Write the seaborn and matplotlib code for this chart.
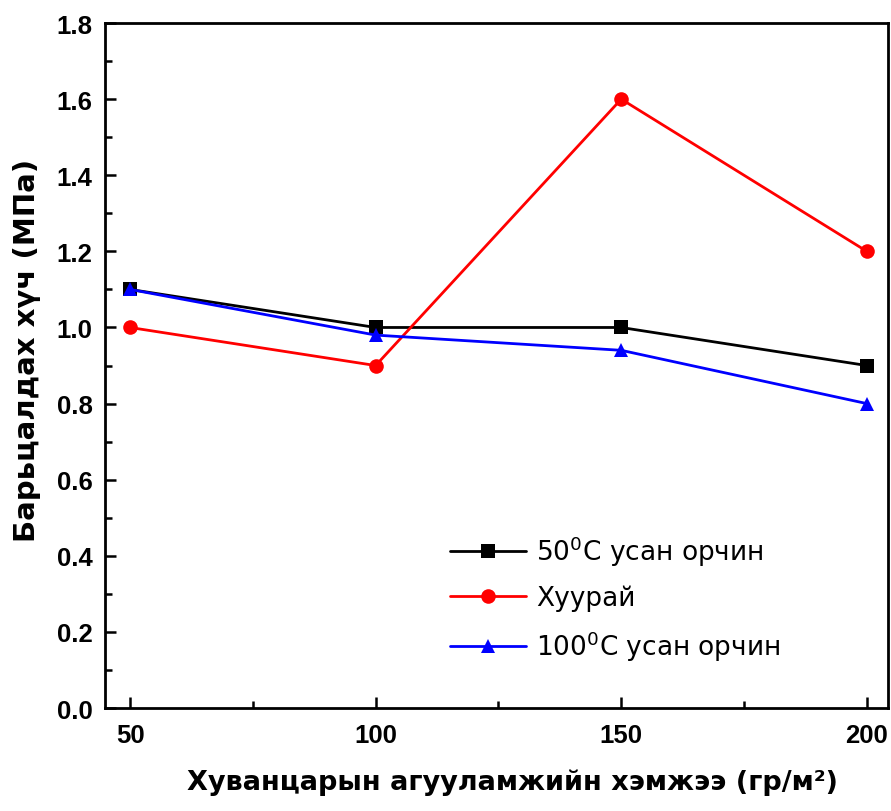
import numpy as np
import pandas as pd
import matplotlib
matplotlib.use("Agg")
import matplotlib.pyplot as plt
import seaborn as sns
from matplotlib.ticker import MultipleLocator, FormatStrFormatter

# data
content = [50, 100, 150, 200]
wet50 = [1.1, 1.0, 1.0, 0.9]
dry = [1.0, 0.9, 1.6, 1.2]
wet100 = [1.1, 0.98, 0.94, 0.8]
series_names = ["50$^\\mathregular{0}$C усан орчин", "Хуурай",
                "100$^\\mathregular{0}$C усан орчин"]

df = pd.DataFrame({
    "x": content * 3,
    "y": wet50 + dry + wet100,
    "series": [series_names[0]] * 4 + [series_names[1]] * 4 + [series_names[2]] * 4,
})

sns.set_style("ticks")
plt.rcParams["font.family"] = ["Liberation Sans", "DejaVu Sans"]
plt.rcParams.update({"text.color": "black", "axes.labelcolor": "black",
                     "xtick.color": "black", "ytick.color": "black"})

fig = plt.figure(figsize=(8.91, 8.12), dpi=100)
ax = fig.add_axes([0.1178, 0.1268, 0.8788, 0.8436])

sns.lineplot(data=df, x="x", y="y", hue="series", style="series",
             palette=["black", "red", "blue"],
             markers=["s", "o", "^"], dashes=False,
             markersize=10.5, linewidth=2, markeredgewidth=0,
             ax=ax)

ax.set_xlim(44.9, 204.3)
ax.set_ylim(0, 1.8)
ax.xaxis.set_major_locator(MultipleLocator(50))
ax.xaxis.set_minor_locator(MultipleLocator(25))
ax.yaxis.set_major_locator(MultipleLocator(0.2))
ax.yaxis.set_minor_locator(MultipleLocator(0.1))
ax.yaxis.set_major_formatter(FormatStrFormatter("%.1f"))

ax.tick_params(which="major", direction="in", length=8, width=1.8,
               labelsize=18.5)
ax.tick_params(axis="x", which="major", pad=11)
ax.tick_params(axis="y", which="major", pad=9)
ax.tick_params(which="minor", direction="in", length=5, width=1.8)
for lab in ax.get_xticklabels() + ax.get_yticklabels():
    lab.set_fontweight("bold")
for sp in ax.spines.values():
    sp.set_linewidth(2)
    sp.set_color("black")

ax.set_xlabel("Хуванцарын агууламжийн хэмжээ (гр/м²)", fontsize=19.5,
              fontweight="bold", family=["DejaVu Sans"])
ax.xaxis.set_label_coords(0.52, -0.088)
ax.set_ylabel("Барьцалдах хүч (МПа)", fontsize=21,
              fontweight="bold", family=["DejaVu Sans"])
ax.yaxis.set_label_coords(-0.082, 0.524)

leg = ax.legend(loc="lower left", bbox_to_anchor=(0.41, 0.031), frameon=False,
                prop={"family": "DejaVu Sans", "size": 19},
                handlelength=2.9, handletextpad=0.37, labelspacing=0.65)

fig.savefig("out.png", dpi=100)
